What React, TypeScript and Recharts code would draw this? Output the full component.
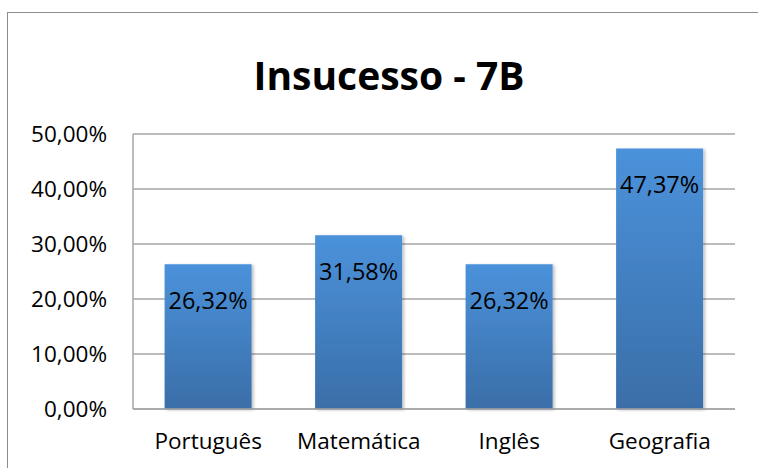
import { BarChart, Bar, XAxis, YAxis, CartesianGrid, LabelList } from "recharts";

const subjects = ["Português", "Matemática", "Inglês", "Geografia"];
const failRates = [26.32, 31.58, 26.32, 47.37];
const yTicks = [0, 10, 20, 30, 40, 50];

const data = subjects.map((subject, i) => ({ subject, rate: failRates[i] }));

const fmt = (v: number) => v.toFixed(2).replace(".", ",") + "%";
const font = "'Open Sans', 'Noto Sans', sans-serif";

const BarLabel = (props: any) => {
  const { x, y, width, value } = props;
  return (
    <text
      x={x + width / 2}
      y={y + 36}
      textAnchor="middle"
      dominantBaseline="central"
      fontSize={23.5}
      fontFamily={font}
      fill="#000"
    >
      {fmt(value)}
    </text>
  );
};

export default function App() {
  return (
    <div style={{ position: "absolute", left: 0, top: 0, width: 758, height: 468, overflow: "hidden", background: "#fff" }}>
      <div
        style={{
          position: "absolute",
          left: 7,
          top: 12,
          width: 800,
          height: 500,
          border: "1.5px solid #8c8c8c",
        }}
      />
      <div
        style={{
          position: "absolute",
          left: 0,
          width: 778,
          top: 47,
          lineHeight: "56px",
          textAlign: "center",
          fontFamily: font,
          fontWeight: 700,
          fontSize: 39,
          color: "#000",
        }}
      >
        Insucesso - 7B
      </div>
      <div style={{ position: "absolute", left: 0, top: 0 }}>
        <BarChart width={758} height={468} data={data} margin={{ top: 134, right: 23, bottom: 0, left: 0 }} barCategoryGap="21%">
          <defs>
            <linearGradient id="barFill" x1="0" y1="0" x2="0" y2="1">
              <stop offset="0%" stopColor="#4b92db" />
              <stop offset="100%" stopColor="#3a6ea8" />
            </linearGradient>
            <filter id="shadow" x="-10%" y="-10%" width="130%" height="120%">
              <feDropShadow dx="2" dy="1" stdDeviation="1.5" floodColor="#000" floodOpacity="0.25" />
            </filter>
          </defs>
          <CartesianGrid vertical={false} stroke="#a6a6a6" strokeWidth={1.5} />
          <XAxis
            dataKey="subject"
            height={59}
            axisLine={{ stroke: "#a6a6a6", strokeWidth: 1.5 }}
            tickLine={false}
            tickSize={0}
            tickMargin={24}
            tick={{ fontSize: 22.5, fontFamily: font, fill: "#000" }}
            interval={0}
          />
          <YAxis
            width={133}
            domain={[0, 50]}
            ticks={yTicks}
            tickFormatter={fmt}
            axisLine={{ stroke: "#a6a6a6", strokeWidth: 1.5 }}
            tickLine={false}
            tickSize={0}
            tickMargin={26}
            tick={{ fontSize: 22.5, fontFamily: font, fill: "#000" }}
          />
          <Bar dataKey="rate" fill="url(#barFill)" filter="url(#shadow)" isAnimationActive={false}>
            <LabelList dataKey="rate" content={BarLabel} />
          </Bar>
        </BarChart>
      </div>
    </div>
  );
}
